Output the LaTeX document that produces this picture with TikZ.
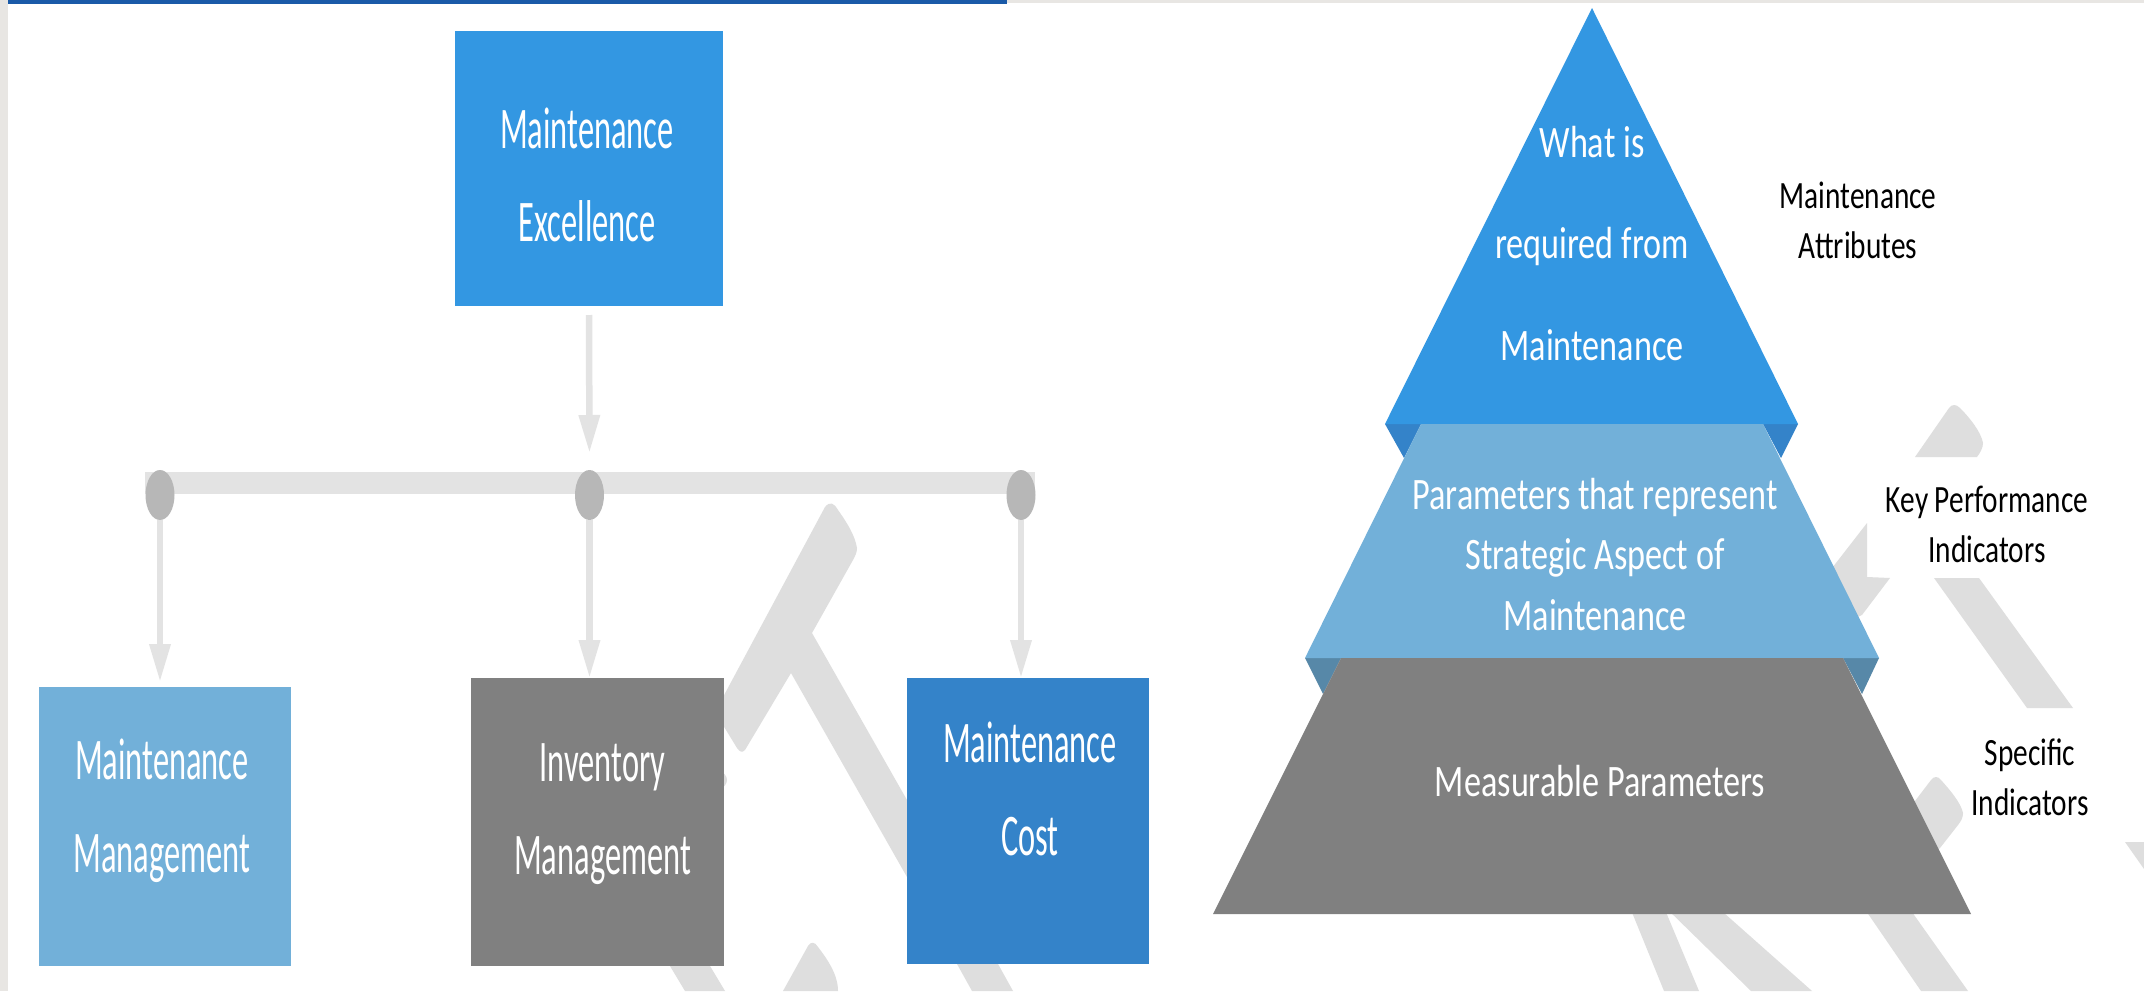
\documentclass[tikz,border=0pt]{standalone}
\usepackage{fontspec}
\usetikzlibrary{arrows.meta,shapes.geometric}
\setmainfont{Carlito}
\newfontfamily\narrowf[FakeStretch=0.55]{Carlito}
\newfontfamily\midf[FakeStretch=0.76]{Carlito}
\definecolor{topblue}{HTML}{3397E2}
\definecolor{lightblue}{HTML}{72B0D9}
\definecolor{midblue}{HTML}{3483C9}
\definecolor{shadeblue}{HTML}{5788A8}
\definecolor{boxgrey}{HTML}{808080}
\definecolor{mark}{HTML}{DEDEDE}
\definecolor{linegrey}{HTML}{E3E3E3}
\definecolor{hubgrey}{HTML}{B7B7B7}
\definecolor{barblue}{HTML}{1A5AA8}
\definecolor{edgegrey}{HTML}{E8E6E3}
\tikzset{
  x=1pt,y=-1pt,
  boxnode/.style={rectangle,inner sep=0pt,outer sep=0pt},
  hub/.style={ellipse,fill=hubgrey,inner sep=0pt,outer sep=0pt,minimum width=29pt,minimum height=50pt},
  flow/.style={draw=linegrey,line width=6.5pt,-{Triangle[length=38pt,width=20pt]}},
  boxtext/.style={text=white,align=center,inner sep=0pt,anchor=base,font=\narrowf\fontsize{59}{93}\selectfont},
  pyrtext/.style={text=white,align=center,inner sep=0pt,anchor=base,font=\midf\fontsize{45}{60.5}\selectfont},
  sidetext/.style={text=black,align=center,inner sep=0pt,anchor=base,font=\midf\fontsize{38.6}{50}\selectfont},
  wm/.style={fill=mark}
}
\begin{document}
\begin{tikzpicture}
\useasboundingbox (0,0) rectangle (2144,991);
\fill[white] (0,0) rectangle (2144,991);
% page edges
\fill[edgegrey] (0,0) rectangle (8,991);
\fill[edgegrey] (1007,0) rectangle (2144,3);
\fill[barblue] (8,0) rectangle (1007,4);
% watermark, left
\fill[wm] (825,507) .. controls (830,501) and (834,503) .. (838,510) .. controls (848,524) and (855,536) .. (857,548) .. controls (857,553) and (855,556) .. (853,560) -- (812,633) -- (907,800) -- (907,877) -- (791,673) -- (745,750) .. controls (742,753) and (740,752) .. (737,748) -- (715,712) -- cycle;
\fill[wm] (700,780) ellipse [x radius=27, y radius=14];
\fill[wm] (670,966) -- (710,966) -- (725,991) -- (685,991) -- cycle;
\fill[wm] (783,991) -- (808,946) .. controls (811,941) and (815,942) .. (818,947) .. controls (828,960) and (838,975) .. (838,991) -- cycle;
\fill[wm] (957,964) -- (998,964) -- (1013,991) -- (972,991) -- cycle;
% watermark, right
\fill[wm] (1915,457) -- (1949,408) .. controls (1952,404) and (1956,404) .. (1960,408) .. controls (1970,418) and (1981,432) .. (1983,443) .. controls (1983,448) and (1980,453) .. (1977,457) -- cycle;
\fill[wm] (1867,523) -- (1867,577) -- (1890,578) -- (1862,615) -- (1840,625) -- (1815,590) -- cycle;
\fill[wm] (1934,578) -- (1979,578) -- (2073,708) -- (2027,708) -- cycle;
\fill[wm] (1915,801) -- (1931,780) .. controls (1934,776) and (1938,776) .. (1941,780) .. controls (1950,790) and (1961,803) .. (1963,813) .. controls (1963,818) and (1961,821) .. (1958,825) -- (1940,848) -- (1925,860) -- (1900,820) -- cycle;
\fill[wm] (2125,842) -- (2144,842) -- (2144,869) -- cycle;
\fill[wm] (1629,905) -- (1663,905) -- (1699,991) -- (1664,991) -- cycle;
\fill[wm] (1663,905) -- (1715,905) -- (1812,991) -- (1751,991) -- cycle;
\fill[wm] (1862,905) -- (1907,905) -- (1968,991) -- (1921,991) -- cycle;
% org chart
\node[boxnode,fill=topblue,minimum width=268pt,minimum height=275pt] (top) at (589,168.5) {};
\node[boxnode,fill=lightblue,minimum width=252pt,minimum height=279pt] (mgmt) at (165,826.5) {};
\node[boxnode,fill=boxgrey,minimum width=253pt,minimum height=288pt] (inv) at (597.5,822) {};
\node[boxnode,fill=midblue,minimum width=242pt,minimum height=286pt] (cost) at (1028,821) {};
\node[boxnode,fill=linegrey,minimum width=890pt,minimum height=22pt] (bar) at (590,483) {};
\node[hub] (hubA) at (160,495) {};
\node[hub] (hubB) at (589.5,495) {};
\node[hub] (hubC) at (1021,495) {};
\draw[flow,shorten <=9pt,shorten >=17pt] (top.south) -- (hubB.north);
\draw[flow] (hubA.south) -- ([yshift=5pt]hubA.south |- mgmt.north);
\draw[flow] (hubB.south) -- (hubB.south |- inv.north);
\draw[flow] (hubC.south) -- (hubC.south |- cost.north);
\node[boxtext] (topT) at (587,241) {Maintenance\\Excellence};
\node[boxtext] (mgmtT) at (162,872) {Maintenance\\Management};
\node[boxtext] (invT) at (602.5,874) {Inventory\\Management};
\node[boxtext] (costT) at (1030,855) {Maintenance\\Cost};
% pyramid
\fill[midblue] (1385,424) -- (1421,424) -- (1404,458) -- cycle;
\fill[midblue] (1798,424) -- (1763,424) -- (1781,458) -- cycle;
\fill[topblue] (1592,8) -- (1798,424) -- (1385,424) -- cycle;
\fill[shadeblue] (1305,658) -- (1341,658) -- (1323,694) -- cycle;
\fill[shadeblue] (1879,658) -- (1843,658) -- (1862,694) -- cycle;
\fill[lightblue] (1421,424) -- (1763,424) -- (1879,658) -- (1305,658) -- cycle;
\fill[boxgrey] (1341,658) -- (1843,658) -- (1971,914) -- (1213,914) -- cycle;
\node[pyrtext,font=\midf\fontsize{45}{101.5}\selectfont] (pyrA) at (1592,360) {What is\\required from\\Maintenance};
\node[pyrtext] (pyrB) at (1595,630) {Parameters that represent\\Strategic Aspect of\\Maintenance};
\node[pyrtext] (pyrC) at (1600,796) {Measurable Parameters};
\node[sidetext] (sideA) at (1858,258) {Maintenance\\Attributes};
\node[sidetext] (sideB) at (1987,562) {Key Performance\\Indicators};
\node[sidetext] (sideC) at (2030,815) {Specific\\Indicators};
\end{tikzpicture}
\end{document}
